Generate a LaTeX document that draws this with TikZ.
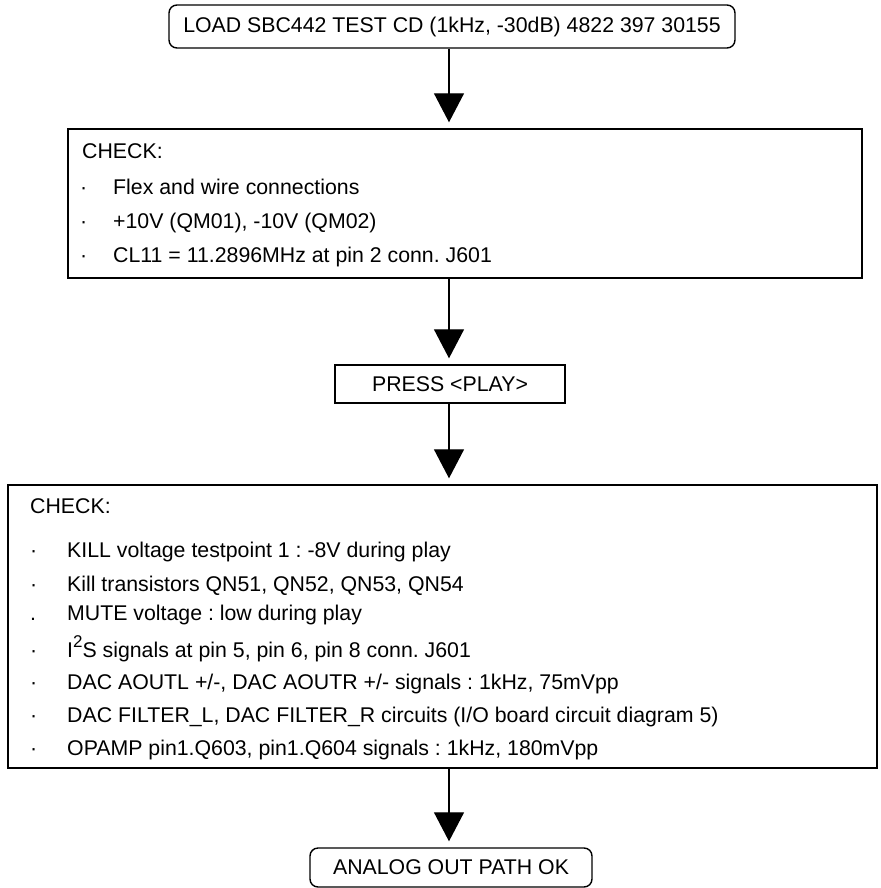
\documentclass[tikz,border=0pt]{standalone}
\usepackage{fontspec}
\setmainfont{Liberation Sans}
\usetikzlibrary{arrows.meta}

\begin{document}
\begin{tikzpicture}[
		x=1pt, y=-1pt,
		every node/.style={font=\fontsize{21.3}{25}\selectfont\frenchspacing},
		box/.style={draw, line width=1.4pt, inner sep=0pt},
		roundbox/.style={box, rounded corners=8pt},
		item/.style={anchor=base west, inner sep=0pt},
		flow/.style={line width=1.3pt, -{Triangle[width=30pt,length=29pt]}, shorten >=6pt}
	]
	\useasboundingbox (0,0) rectangle (880,888);
	\coordinate (axis) at (449,0);

	\node[roundbox, minimum width=566pt, minimum height=43pt] (load) at (452,26.5)
		{LOAD SBC442 TEST CD (1kHz, -30dB) 4822 397 30155};

	\node[box, minimum width=794pt, minimum height=149pt] (check1) at (465,203.5) {};
	\node[item] (head1) at (82,158) {CHECK:};
	\foreach \y/\txt [count=\i] in {
			194/Flex and wire connections,
			228/{+10V (QM01), -10V (QM02)},
			262/{CL11 = 11.2896MHz at pin 2 conn. J601}} {
		\node[item] (dota\i) at (80,\y) {·};
		\node[item] (linea\i) at (113,\y) {\txt};
	}

	\node[box, minimum width=230pt, minimum height=38pt] (press) at (450,384) {PRESS <PLAY>};

	\node[box, minimum width=869pt, minimum height=283pt] (check2) at (442.5,626.5) {};
	\node[item] (head2) at (30,513) {CHECK:};
	\foreach \y/\dot/\txt [count=\i] in {
			557/·/{KILL voltage testpoint 1 : -8V during play},
			591/·/{Kill transistors QN51, QN52, QN53, QN54},
			620/./{MUTE voltage : low during play},
			657/·/{I\raisebox{10pt}{\fontsize{17}{17}\selectfont 2}S signals at pin 5, pin 6, pin 8 conn. J601},
			689/·/{DAC AOUTL +/-, DAC AOUTR +/- signals : 1kHz, 75mVpp},
			722/·/{DAC FILTER\_L, DAC FILTER\_R circuits (I/O board circuit diagram 5)},
			755/·/{OPAMP pin1.Q603, pin1.Q604 signals : 1kHz, 180mVpp}} {
		\node[item] (dotb\i) at (30,\y) {\dot};
		\node[item] (lineb\i) at (67,\y) {\txt};
	}

	\node[roundbox, minimum width=282pt, minimum height=39pt] (done) at (451,867.5) {ANALOG OUT PATH OK};

	\draw[flow] (load.south -| axis) -- (check1.north -| axis);
	\draw[flow] (check1.south -| axis) -- (press.north -| axis);
	\draw[flow] (press.south -| axis) -- (check2.north -| axis);
	\draw[flow] (check2.south -| axis) -- (done.north -| axis);
\end{tikzpicture}
\end{document}
